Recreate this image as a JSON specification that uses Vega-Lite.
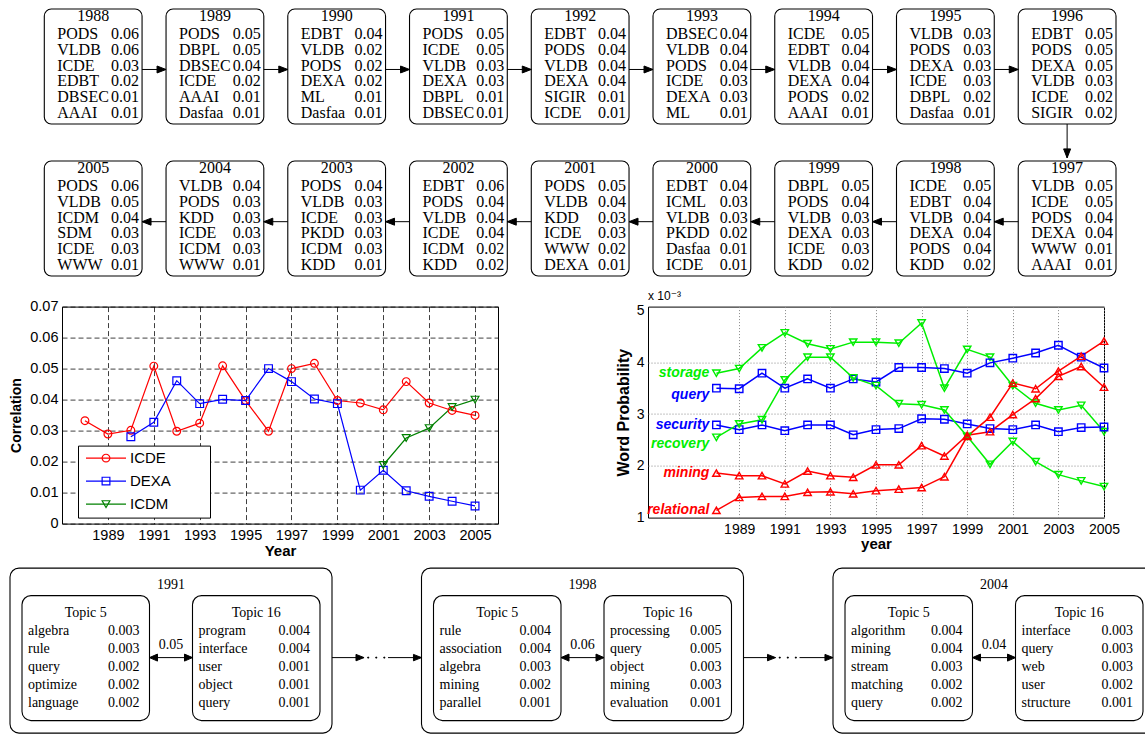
{
"$schema": "https://vega.github.io/schema/vega-lite/v6.json",
"padding": {"left": 9, "top": 8, "right": 0, "bottom": 0},
"background": "white",
"config": {"view": {"stroke": null}, "font": "Liberation Sans"},
"datasets": {
"venues": [
{"year":1988,"rank":1,"venue":"PODS","score":0.06},{"year":1988,"rank":2,"venue":"VLDB","score":0.06},{"year":1988,"rank":3,"venue":"ICDE","score":0.03},{"year":1988,"rank":4,"venue":"EDBT","score":0.02},{"year":1988,"rank":5,"venue":"DBSEC","score":0.01},{"year":1988,"rank":6,"venue":"AAAI","score":0.01},
{"year":1989,"rank":1,"venue":"PODS","score":0.05},{"year":1989,"rank":2,"venue":"DBPL","score":0.05},{"year":1989,"rank":3,"venue":"DBSEC","score":0.04},{"year":1989,"rank":4,"venue":"ICDE","score":0.02},{"year":1989,"rank":5,"venue":"AAAI","score":0.01},{"year":1989,"rank":6,"venue":"Dasfaa","score":0.01},
{"year":1990,"rank":1,"venue":"EDBT","score":0.04},{"year":1990,"rank":2,"venue":"VLDB","score":0.02},{"year":1990,"rank":3,"venue":"PODS","score":0.02},{"year":1990,"rank":4,"venue":"DEXA","score":0.02},{"year":1990,"rank":5,"venue":"ML","score":0.01},{"year":1990,"rank":6,"venue":"Dasfaa","score":0.01},
{"year":1991,"rank":1,"venue":"PODS","score":0.05},{"year":1991,"rank":2,"venue":"ICDE","score":0.05},{"year":1991,"rank":3,"venue":"VLDB","score":0.03},{"year":1991,"rank":4,"venue":"DEXA","score":0.03},{"year":1991,"rank":5,"venue":"DBPL","score":0.01},{"year":1991,"rank":6,"venue":"DBSEC","score":0.01},
{"year":1992,"rank":1,"venue":"EDBT","score":0.04},{"year":1992,"rank":2,"venue":"PODS","score":0.04},{"year":1992,"rank":3,"venue":"VLDB","score":0.04},{"year":1992,"rank":4,"venue":"DEXA","score":0.04},{"year":1992,"rank":5,"venue":"SIGIR","score":0.01},{"year":1992,"rank":6,"venue":"ICDE","score":0.01},
{"year":1993,"rank":1,"venue":"DBSEC","score":0.04},{"year":1993,"rank":2,"venue":"VLDB","score":0.04},{"year":1993,"rank":3,"venue":"PODS","score":0.04},{"year":1993,"rank":4,"venue":"ICDE","score":0.03},{"year":1993,"rank":5,"venue":"DEXA","score":0.03},{"year":1993,"rank":6,"venue":"ML","score":0.01},
{"year":1994,"rank":1,"venue":"ICDE","score":0.05},{"year":1994,"rank":2,"venue":"EDBT","score":0.04},{"year":1994,"rank":3,"venue":"VLDB","score":0.04},{"year":1994,"rank":4,"venue":"DEXA","score":0.04},{"year":1994,"rank":5,"venue":"PODS","score":0.02},{"year":1994,"rank":6,"venue":"AAAI","score":0.01},
{"year":1995,"rank":1,"venue":"VLDB","score":0.03},{"year":1995,"rank":2,"venue":"PODS","score":0.03},{"year":1995,"rank":3,"venue":"DEXA","score":0.03},{"year":1995,"rank":4,"venue":"ICDE","score":0.03},{"year":1995,"rank":5,"venue":"DBPL","score":0.02},{"year":1995,"rank":6,"venue":"Dasfaa","score":0.01},
{"year":1996,"rank":1,"venue":"EDBT","score":0.05},{"year":1996,"rank":2,"venue":"PODS","score":0.05},{"year":1996,"rank":3,"venue":"DEXA","score":0.05},{"year":1996,"rank":4,"venue":"VLDB","score":0.03},{"year":1996,"rank":5,"venue":"ICDE","score":0.02},{"year":1996,"rank":6,"venue":"SIGIR","score":0.02},
{"year":1997,"rank":1,"venue":"VLDB","score":0.05},{"year":1997,"rank":2,"venue":"ICDE","score":0.05},{"year":1997,"rank":3,"venue":"PODS","score":0.04},{"year":1997,"rank":4,"venue":"DEXA","score":0.04},{"year":1997,"rank":5,"venue":"WWW","score":0.01},{"year":1997,"rank":6,"venue":"AAAI","score":0.01},
{"year":1998,"rank":1,"venue":"ICDE","score":0.05},{"year":1998,"rank":2,"venue":"EDBT","score":0.04},{"year":1998,"rank":3,"venue":"VLDB","score":0.04},{"year":1998,"rank":4,"venue":"DEXA","score":0.04},{"year":1998,"rank":5,"venue":"PODS","score":0.04},{"year":1998,"rank":6,"venue":"KDD","score":0.02},
{"year":1999,"rank":1,"venue":"DBPL","score":0.05},{"year":1999,"rank":2,"venue":"PODS","score":0.04},{"year":1999,"rank":3,"venue":"VLDB","score":0.03},{"year":1999,"rank":4,"venue":"DEXA","score":0.03},{"year":1999,"rank":5,"venue":"ICDE","score":0.03},{"year":1999,"rank":6,"venue":"KDD","score":0.02},
{"year":2000,"rank":1,"venue":"EDBT","score":0.04},{"year":2000,"rank":2,"venue":"ICML","score":0.03},{"year":2000,"rank":3,"venue":"VLDB","score":0.03},{"year":2000,"rank":4,"venue":"PKDD","score":0.02},{"year":2000,"rank":5,"venue":"Dasfaa","score":0.01},{"year":2000,"rank":6,"venue":"ICDE","score":0.01},
{"year":2001,"rank":1,"venue":"PODS","score":0.05},{"year":2001,"rank":2,"venue":"VLDB","score":0.04},{"year":2001,"rank":3,"venue":"KDD","score":0.03},{"year":2001,"rank":4,"venue":"ICDE","score":0.03},{"year":2001,"rank":5,"venue":"WWW","score":0.02},{"year":2001,"rank":6,"venue":"DEXA","score":0.01},
{"year":2002,"rank":1,"venue":"EDBT","score":0.06},{"year":2002,"rank":2,"venue":"PODS","score":0.04},{"year":2002,"rank":3,"venue":"VLDB","score":0.04},{"year":2002,"rank":4,"venue":"ICDE","score":0.04},{"year":2002,"rank":5,"venue":"ICDM","score":0.02},{"year":2002,"rank":6,"venue":"KDD","score":0.02},
{"year":2003,"rank":1,"venue":"PODS","score":0.04},{"year":2003,"rank":2,"venue":"VLDB","score":0.03},{"year":2003,"rank":3,"venue":"ICDE","score":0.03},{"year":2003,"rank":4,"venue":"PKDD","score":0.03},{"year":2003,"rank":5,"venue":"ICDM","score":0.03},{"year":2003,"rank":6,"venue":"KDD","score":0.01},
{"year":2004,"rank":1,"venue":"VLDB","score":0.04},{"year":2004,"rank":2,"venue":"PODS","score":0.03},{"year":2004,"rank":3,"venue":"KDD","score":0.03},{"year":2004,"rank":4,"venue":"ICDE","score":0.03},{"year":2004,"rank":5,"venue":"ICDM","score":0.03},{"year":2004,"rank":6,"venue":"WWW","score":0.01},
{"year":2005,"rank":1,"venue":"PODS","score":0.06},{"year":2005,"rank":2,"venue":"VLDB","score":0.05},{"year":2005,"rank":3,"venue":"ICDM","score":0.04},{"year":2005,"rank":4,"venue":"SDM","score":0.03},{"year":2005,"rank":5,"venue":"ICDE","score":0.03},{"year":2005,"rank":6,"venue":"WWW","score":0.01}
],
"correlation": [
{"year":1988,"venue":"ICDE","correlation":0.0332},{"year":1989,"venue":"ICDE","correlation":0.0289},{"year":1990,"venue":"ICDE","correlation":0.0301},{"year":1991,"venue":"ICDE","correlation":0.0508},{"year":1992,"venue":"ICDE","correlation":0.0298},{"year":1993,"venue":"ICDE","correlation":0.0324},{"year":1994,"venue":"ICDE","correlation":0.0509},{"year":1995,"venue":"ICDE","correlation":0.0397},{"year":1996,"venue":"ICDE","correlation":0.0298},{"year":1997,"venue":"ICDE","correlation":0.0500},{"year":1998,"venue":"ICDE","correlation":0.0517},{"year":1999,"venue":"ICDE","correlation":0.0397},{"year":2000,"venue":"ICDE","correlation":0.0389},{"year":2001,"venue":"ICDE","correlation":0.0367},{"year":2002,"venue":"ICDE","correlation":0.0458},{"year":2003,"venue":"ICDE","correlation":0.0389},{"year":2004,"venue":"ICDE","correlation":0.0365},{"year":2005,"venue":"ICDE","correlation":0.0349},
{"year":1990,"venue":"DEXA","correlation":0.0280},{"year":1991,"venue":"DEXA","correlation":0.0327},{"year":1992,"venue":"DEXA","correlation":0.0461},{"year":1993,"venue":"DEXA","correlation":0.0387},{"year":1994,"venue":"DEXA","correlation":0.0401},{"year":1995,"venue":"DEXA","correlation":0.0397},{"year":1996,"venue":"DEXA","correlation":0.0500},{"year":1997,"venue":"DEXA","correlation":0.0458},{"year":1998,"venue":"DEXA","correlation":0.0402},{"year":1999,"venue":"DEXA","correlation":0.0387},{"year":2000,"venue":"DEXA","correlation":0.0108},{"year":2001,"venue":"DEXA","correlation":0.0172},{"year":2002,"venue":"DEXA","correlation":0.0106},{"year":2003,"venue":"DEXA","correlation":0.0088},{"year":2004,"venue":"DEXA","correlation":0.0072},{"year":2005,"venue":"DEXA","correlation":0.0057},
{"year":2001,"venue":"ICDM","correlation":0.0189},{"year":2002,"venue":"ICDM","correlation":0.0276},{"year":2003,"venue":"ICDM","correlation":0.0308},{"year":2004,"venue":"ICDM","correlation":0.0376},{"year":2005,"venue":"ICDM","correlation":0.0400}
],
"words": [
{"year":1988,"word":"storage","prob":0.00379},{"year":1989,"word":"storage","prob":0.00388},{"year":1990,"word":"storage","prob":0.00428},{"year":1991,"word":"storage","prob":0.00457},{"year":1992,"word":"storage","prob":0.00436},{"year":1993,"word":"storage","prob":0.00426},{"year":1994,"word":"storage","prob":0.00439},{"year":1995,"word":"storage","prob":0.00439},{"year":1996,"word":"storage","prob":0.00437},{"year":1997,"word":"storage","prob":0.00476},{"year":1998,"word":"storage","prob":0.00350},{"year":1999,"word":"storage","prob":0.00425},{"year":2000,"word":"storage","prob":0.00410},{"year":2001,"word":"storage","prob":0.00355},{"year":2002,"word":"storage","prob":0.00321},{"year":2003,"word":"storage","prob":0.00308},{"year":2004,"word":"storage","prob":0.00317},{"year":2005,"word":"storage","prob":0.00266},
{"year":1988,"word":"query","prob":0.00350},{"year":1989,"word":"query","prob":0.00349},{"year":1990,"word":"query","prob":0.00379},{"year":1991,"word":"query","prob":0.00350},{"year":1992,"word":"query","prob":0.00368},{"year":1993,"word":"query","prob":0.00350},{"year":1994,"word":"query","prob":0.00368},{"year":1995,"word":"query","prob":0.00362},{"year":1996,"word":"query","prob":0.00390},{"year":1997,"word":"query","prob":0.00390},{"year":1998,"word":"query","prob":0.00388},{"year":1999,"word":"query","prob":0.00379},{"year":2000,"word":"query","prob":0.00399},{"year":2001,"word":"query","prob":0.00408},{"year":2002,"word":"query","prob":0.00418},{"year":2003,"word":"query","prob":0.00433},{"year":2004,"word":"query","prob":0.00410},{"year":2005,"word":"query","prob":0.00389},
{"year":1988,"word":"security","prob":0.00279},{"year":1989,"word":"security","prob":0.00270},{"year":1990,"word":"security","prob":0.00279},{"year":1991,"word":"security","prob":0.00268},{"year":1992,"word":"security","prob":0.00279},{"year":1993,"word":"security","prob":0.00279},{"year":1994,"word":"security","prob":0.00260},{"year":1995,"word":"security","prob":0.00270},{"year":1996,"word":"security","prob":0.00272},{"year":1997,"word":"security","prob":0.00291},{"year":1998,"word":"security","prob":0.00290},{"year":1999,"word":"security","prob":0.00281},{"year":2000,"word":"security","prob":0.00272},{"year":2001,"word":"security","prob":0.00270},{"year":2002,"word":"security","prob":0.00279},{"year":2003,"word":"security","prob":0.00266},{"year":2004,"word":"security","prob":0.00274},{"year":2005,"word":"security","prob":0.00275},
{"year":1988,"word":"recovery","prob":0.00255},{"year":1989,"word":"recovery","prob":0.00281},{"year":1990,"word":"recovery","prob":0.00289},{"year":1991,"word":"recovery","prob":0.00366},{"year":1992,"word":"recovery","prob":0.00410},{"year":1993,"word":"recovery","prob":0.00410},{"year":1994,"word":"recovery","prob":0.00370},{"year":1995,"word":"recovery","prob":0.00355},{"year":1996,"word":"recovery","prob":0.00320},{"year":1997,"word":"recovery","prob":0.00318},{"year":1998,"word":"recovery","prob":0.00308},{"year":1999,"word":"recovery","prob":0.00257},{"year":2000,"word":"recovery","prob":0.00203},{"year":2001,"word":"recovery","prob":0.00247},{"year":2002,"word":"recovery","prob":0.00208},{"year":2003,"word":"recovery","prob":0.00183},{"year":2004,"word":"recovery","prob":0.00171},{"year":2005,"word":"recovery","prob":0.00160},
{"year":1988,"word":"mining","prob":0.00186},{"year":1989,"word":"mining","prob":0.00181},{"year":1990,"word":"mining","prob":0.00181},{"year":1991,"word":"mining","prob":0.00165},{"year":1992,"word":"mining","prob":0.00190},{"year":1993,"word":"mining","prob":0.00181},{"year":1994,"word":"mining","prob":0.00178},{"year":1995,"word":"mining","prob":0.00202},{"year":1996,"word":"mining","prob":0.00202},{"year":1997,"word":"mining","prob":0.00239},{"year":1998,"word":"mining","prob":0.00219},{"year":1999,"word":"mining","prob":0.00259},{"year":2000,"word":"mining","prob":0.00266},{"year":2001,"word":"mining","prob":0.00299},{"year":2002,"word":"mining","prob":0.00330},{"year":2003,"word":"mining","prob":0.00373},{"year":2004,"word":"mining","prob":0.00392},{"year":2005,"word":"mining","prob":0.00352},
{"year":1988,"word":"relational","prob":0.00114},{"year":1989,"word":"relational","prob":0.00139},{"year":1990,"word":"relational","prob":0.00141},{"year":1991,"word":"relational","prob":0.00141},{"year":1992,"word":"relational","prob":0.00149},{"year":1993,"word":"relational","prob":0.00150},{"year":1994,"word":"relational","prob":0.00146},{"year":1995,"word":"relational","prob":0.00152},{"year":1996,"word":"relational","prob":0.00155},{"year":1997,"word":"relational","prob":0.00158},{"year":1998,"word":"relational","prob":0.00179},{"year":1999,"word":"relational","prob":0.00257},{"year":2000,"word":"relational","prob":0.00294},{"year":2001,"word":"relational","prob":0.00360},{"year":2002,"word":"relational","prob":0.00349},{"year":2003,"word":"relational","prob":0.00383},{"year":2004,"word":"relational","prob":0.00412},{"year":2005,"word":"relational","prob":0.00441}
],
"topics": [
{"year":1991,"topic":"Topic 5","rank":1,"word":"algebra","prob":0.003},{"year":1991,"topic":"Topic 5","rank":2,"word":"rule","prob":0.003},{"year":1991,"topic":"Topic 5","rank":3,"word":"query","prob":0.002},{"year":1991,"topic":"Topic 5","rank":4,"word":"optimize","prob":0.002},{"year":1991,"topic":"Topic 5","rank":5,"word":"language","prob":0.002},
{"year":1991,"topic":"Topic 16","rank":1,"word":"program","prob":0.004},{"year":1991,"topic":"Topic 16","rank":2,"word":"interface","prob":0.004},{"year":1991,"topic":"Topic 16","rank":3,"word":"user","prob":0.001},{"year":1991,"topic":"Topic 16","rank":4,"word":"object","prob":0.001},{"year":1991,"topic":"Topic 16","rank":5,"word":"query","prob":0.001},
{"year":1998,"topic":"Topic 5","rank":1,"word":"rule","prob":0.004},{"year":1998,"topic":"Topic 5","rank":2,"word":"association","prob":0.004},{"year":1998,"topic":"Topic 5","rank":3,"word":"algebra","prob":0.003},{"year":1998,"topic":"Topic 5","rank":4,"word":"mining","prob":0.002},{"year":1998,"topic":"Topic 5","rank":5,"word":"parallel","prob":0.001},
{"year":1998,"topic":"Topic 16","rank":1,"word":"processing","prob":0.005},{"year":1998,"topic":"Topic 16","rank":2,"word":"query","prob":0.005},{"year":1998,"topic":"Topic 16","rank":3,"word":"object","prob":0.003},{"year":1998,"topic":"Topic 16","rank":4,"word":"mining","prob":0.003},{"year":1998,"topic":"Topic 16","rank":5,"word":"evaluation","prob":0.001},
{"year":2004,"topic":"Topic 5","rank":1,"word":"algorithm","prob":0.004},{"year":2004,"topic":"Topic 5","rank":2,"word":"mining","prob":0.004},{"year":2004,"topic":"Topic 5","rank":3,"word":"stream","prob":0.003},{"year":2004,"topic":"Topic 5","rank":4,"word":"matching","prob":0.002},{"year":2004,"topic":"Topic 5","rank":5,"word":"query","prob":0.002},
{"year":2004,"topic":"Topic 16","rank":1,"word":"interface","prob":0.003},{"year":2004,"topic":"Topic 16","rank":2,"word":"query","prob":0.003},{"year":2004,"topic":"Topic 16","rank":3,"word":"web","prob":0.003},{"year":2004,"topic":"Topic 16","rank":4,"word":"user","prob":0.002},{"year":2004,"topic":"Topic 16","rank":5,"word":"structure","prob":0.001}
],
"links": [{"year":1991,"correlation":0.05},{"year":1998,"correlation":0.06},{"year":2004,"correlation":0.04}],
"flows": [{"from":1991,"to":1998},{"from":1998,"to":2004}]
},
"resolve": {"scale": {"x": "independent", "y": "independent", "color": "independent", "shape": "independent"}},
"spacing": 11.6,
"vconcat": [
{
"spacing": 0,
"resolve": {"scale": {"x": "independent", "y": "independent"}},
"vconcat": [
{
"width": 1083, "height": 115,
"data": {"name": "venues"},
"transform": [{"filter": "datum.year <= 1996"}],
"encoding": {"x": {"field": "year", "type": "ordinal", "sort": "ascending", "scale": {"range": [-17.7, 1054], "paddingInner": 0.197, "paddingOuter": 0}, "axis": null}},
"layer": [
{"transform": [{"filter": "datum.rank == 1"}], "mark": {"type": "rect", "fill": "white", "stroke": "black", "strokeWidth": 1.1, "cornerRadius": 7}},
{"transform": [{"filter": "datum.rank == 1 && datum.year < 1996"}], "mark": {"type": "point", "shape": "M1,0.061H1.491M1.491,0.061L1.307,-0.01L1.307,0.132Z", "size": 9555, "filled": true, "color": "black", "stroke": "black", "strokeWidth": 1, "opacity": 1}},
{"transform": [{"filter": "datum.rank == 1 && datum.year == 1996"}], "mark": {"type": "point", "shape": "M0,1.177V1.87M0,1.87L-0.0716,1.686L0.0716,1.686Z", "size": 9555, "filled": true, "color": "black", "stroke": "black", "strokeWidth": 1, "opacity": 1}},
{"transform": [{"filter": "datum.rank == 1"}], "mark": {"type": "text", "font": "Liberation Serif", "fontSize": 16, "dy": -18, "baseline": "middle", "align": "center", "color": "black"}, "encoding": {"text": {"field": "year", "type": "nominal"}, "y": {"field": "rank", "type": "quantitative", "scale": {"domain": [1, 6], "range": [25, 104], "nice": false, "zero": false}, "axis": null}}},
{"mark": {"type": "text", "font": "Liberation Serif", "fontSize": 16, "align": "left", "dx": -35.9, "baseline": "middle", "color": "black"}, "encoding": {"text": {"field": "venue", "type": "nominal"}, "y": {"field": "rank", "type": "quantitative", "scale": {"domain": [1, 6], "range": [25, 104], "nice": false, "zero": false}, "axis": null}}},
{"mark": {"type": "text", "font": "Liberation Serif", "fontSize": 16, "align": "right", "dx": 45.9, "baseline": "middle", "color": "black"}, "encoding": {"text": {"field": "score", "type": "quantitative", "format": ".2f"}, "y": {"field": "rank", "type": "quantitative", "scale": {"domain": [1, 6], "range": [25, 104], "nice": false, "zero": false}, "axis": null}}}
]
},
{
"width": 1083, "height": 115,
"data": {"name": "venues"},
"transform": [{"filter": "datum.year >= 1997"}],
"encoding": {"x": {"field": "year", "type": "ordinal", "sort": "descending", "scale": {"range": [-17.7, 1054], "paddingInner": 0.197, "paddingOuter": 0}, "axis": null}},
"layer": [
{"transform": [{"filter": "datum.rank == 1"}], "mark": {"type": "rect", "fill": "white", "stroke": "black", "strokeWidth": 1.1, "cornerRadius": 7}},
{"transform": [{"filter": "datum.rank == 1 && datum.year < 2005"}], "mark": {"type": "point", "shape": "M-1,0.065H-1.491M-1.491,0.065L-1.307,-0.007L-1.307,0.137Z", "size": 9555, "filled": true, "color": "black", "stroke": "black", "strokeWidth": 1, "opacity": 1}},
{"transform": [{"filter": "datum.rank == 1"}], "mark": {"type": "text", "font": "Liberation Serif", "fontSize": 16, "dy": -18, "baseline": "middle", "align": "center", "color": "black"}, "encoding": {"text": {"field": "year", "type": "nominal"}, "y": {"field": "rank", "type": "quantitative", "scale": {"domain": [1, 6], "range": [25, 104], "nice": false, "zero": false}, "axis": null}}},
{"mark": {"type": "text", "font": "Liberation Serif", "fontSize": 16, "align": "left", "dx": -35.9, "baseline": "middle", "color": "black"}, "encoding": {"text": {"field": "venue", "type": "nominal"}, "y": {"field": "rank", "type": "quantitative", "scale": {"domain": [1, 6], "range": [25, 104], "nice": false, "zero": false}, "axis": null}}},
{"mark": {"type": "text", "font": "Liberation Serif", "fontSize": 16, "align": "right", "dx": 45.9, "baseline": "middle", "color": "black"}, "encoding": {"text": {"field": "score", "type": "quantitative", "format": ".2f"}, "y": {"field": "rank", "type": "quantitative", "scale": {"domain": [1, 6], "range": [25, 104], "nice": false, "zero": false}, "axis": null}}}
]
}
]
},
{
"spacing": 8,
"resolve": {"scale": {"x": "independent", "y": "independent", "color": "independent", "shape": "independent"}},
"vconcat": [
{
"hconcat": [
{
"width": 436, "height": 217,
"view": {"stroke": "black", "strokeWidth": 1},
"data": {"name": "correlation"},
"encoding": {
"x": {"field": "year", "type": "quantitative", "scale": {"domain": [1987, 2006], "nice": false, "zero": false},
 "axis": {"values": [1989,1991,1993,1995,1997,1999,2001,2003,2005], "format": "d", "title": "Year", "titleFontSize": 15, "titleFontWeight": "bold", "titleColor": "black", "titlePadding": 1, "labelFontSize": 14.5, "labelColor": "black", "labelPadding": 5, "labelFlush": false, "ticks": false, "tickSize": 0, "domain": false, "grid": true, "gridDash": [5, 3], "gridColor": "#000000", "gridOpacity": 0.75, "gridWidth": 1}},
"y": {"field": "correlation", "type": "quantitative", "scale": {"domain": [0, 0.07], "nice": false},
 "axis": {"values": [0,0.01,0.02,0.03,0.04,0.05,0.06,0.07], "labelExpr": "datum.value == 0 ? '0' : format(datum.value, '.2f')", "title": "Correlation", "titleFontSize": 14, "titleFontWeight": "bold", "titleColor": "black", "titlePadding": 6, "labelFontSize": 14.5, "labelColor": "black", "labelPadding": 4, "ticks": false, "tickSize": 0, "domain": false, "grid": true, "gridDash": [5, 3], "gridColor": "#000000", "gridOpacity": 0.75, "gridWidth": 1}}
},
"resolve": {"legend": {"color": "independent", "shape": "independent"}},
"layer": [
{"mark": {"type": "line", "strokeWidth": 1.2},
 "encoding": {"color": {"field": "venue", "type": "nominal", "scale": {"domain": ["ICDE", "DEXA", "ICDM"], "range": ["#ff0000", "#0000ff", "#008000"]},
  "legend": {"orient": "none", "legendX": 16, "legendY": 139, "direction": "vertical", "title": null, "strokeColor": "black", "fillColor": "white", "padding": 5, "symbolType": "M-5,0H5", "symbolSize": 64, "symbolStrokeWidth": 1.2, "symbolOffset": 15.5, "labelOffset": 16.5, "rowPadding": 7, "labelFont": "Liberation Sans", "labelFontSize": 15, "labelColor": "black", "labelLimit": 300,
   "labelExpr": "datum.label + '\u00a0\u00a0\u00a0\u00a0\u00a0\u00a0\u00a0\u00a0\u200b'"}}}},
{"mark": {"type": "point", "filled": false, "size": 60, "strokeWidth": 1.2, "opacity": 1},
 "encoding": {"color": {"field": "venue", "type": "nominal", "scale": {"domain": ["ICDE", "DEXA", "ICDM"], "range": ["#ff0000", "#0000ff", "#008000"]},
  "legend": {"orient": "none", "legendX": 16, "legendY": 139, "direction": "vertical", "title": null, "strokeColor": "transparent", "fillColor": "transparent", "padding": 5, "symbolSize": 60, "symbolStrokeWidth": 1.2, "symbolOffset": 15.5, "labelOffset": 16.5, "rowPadding": 7, "labelFont": "Liberation Sans", "labelFontSize": 15, "labelColor": "black", "labelOpacity": 0, "labelLimit": 300,
   "labelExpr": "datum.label + '\u00a0\u00a0\u00a0\u00a0\u00a0\u00a0\u00a0\u00a0\u200b'"}},
  "shape": {"field": "venue", "type": "nominal", "scale": {"domain": ["ICDE", "DEXA", "ICDM"], "range": ["circle", "square", "triangle-down"]},
  "legend": {"orient": "none", "legendX": 16, "legendY": 139, "direction": "vertical", "title": null, "strokeColor": "transparent", "fillColor": "transparent", "padding": 5, "symbolSize": 60, "symbolStrokeWidth": 1.2, "symbolOffset": 15.5, "labelOffset": 16.5, "rowPadding": 7, "labelFont": "Liberation Sans", "labelFontSize": 15, "labelColor": "black", "labelOpacity": 0, "labelLimit": 300,
   "labelExpr": "datum.label + '\u00a0\u00a0\u00a0\u00a0\u00a0\u00a0\u00a0\u00a0\u200b'"}}}}
]
},
{
"width": 456, "height": 211,
"view": {"stroke": "black", "strokeWidth": 1},
"title": {"text": "x 10⁻³", "anchor": "start", "frame": "group", "offset": 1, "fontSize": 12, "font": "Liberation Sans, DejaVu Sans", "fontWeight": "normal", "color": "black"},
"data": {"name": "words"},
"encoding": {
"x": {"field": "year", "type": "quantitative", "scale": {"domain": [1985, 2005], "nice": false, "zero": false},
 "axis": {"values": [1989,1991,1993,1995,1997,1999,2001,2003,2005], "format": "d", "title": "year", "titleFontSize": 15, "titleFontWeight": "bold", "titleColor": "black", "titlePadding": 0, "labelFontSize": 14, "labelColor": "black", "labelPadding": 5, "labelFlush": false, "ticks": false, "tickSize": 0, "domain": false, "grid": true, "gridDash": [1, 2], "gridColor": "#888888", "gridWidth": 1}},
"y": {"field": "prob", "type": "quantitative", "scale": {"domain": [0.001, 0.005077], "nice": false, "zero": false},
 "axis": {"values": [0.001,0.002,0.003,0.004,0.005], "labelExpr": "format(datum.value * 1000, '.0f')", "title": "Word Probability", "titleFontSize": 16, "titleFontWeight": "bold", "titleColor": "black", "titlePadding": 5, "labelFontSize": 14, "labelColor": "black", "labelPadding": 4, "ticks": false, "tickSize": 0, "domain": false, "grid": true, "gridDash": [1, 2], "gridColor": {"condition": {"test": "datum.value < 0.0015 || datum.value > 0.0045", "value": "transparent"}, "value": "#888888"}, "gridWidth": 1}},
"color": {"field": "word", "type": "nominal", "scale": {"domain": ["storage", "query", "security", "recovery", "mining", "relational"], "range": ["#00ee00", "#0000ff", "#0000ff", "#00ee00", "#ff0000", "#ff0000"]}, "legend": null}
},
"layer": [
{"mark": {"type": "line", "strokeWidth": 1.5}},
{"mark": {"type": "point", "filled": false, "size": 55, "strokeWidth": 1.4, "opacity": 1}, "encoding": {"shape": {"field": "word", "type": "nominal", "scale": {"domain": ["storage", "query", "security", "recovery", "mining", "relational"], "range": ["triangle-down", "square", "square", "triangle-down", "triangle-up", "triangle-up"]}, "legend": null}}},
{"transform": [{"filter": "datum.year == 1988 && datum.word != 'query' && datum.word != 'recovery'"}], "mark": {"type": "text", "align": "right", "baseline": "middle", "dx": -7, "fontStyle": "italic", "fontWeight": "bold", "fontSize": 14, "font": "Liberation Sans"}, "encoding": {"text": {"field": "word", "type": "nominal"}}},
{"transform": [{"filter": "datum.year == 1988 && (datum.word == 'query' || datum.word == 'recovery')"}], "mark": {"type": "text", "align": "right", "baseline": "middle", "dx": -7, "dy": 7, "fontStyle": "italic", "fontWeight": "bold", "fontSize": 14, "font": "Liberation Sans"}, "encoding": {"text": {"field": "word", "type": "nominal"}}}
]
}
],
"spacing": 150,
"bounds": "flush",
"resolve": {"scale": {"x": "independent", "y": "independent", "color": "independent", "shape": "independent"}}
},
{
"width": 1083, "height": 166,
"encoding": {
"x": {"field": "year", "type": "ordinal", "scale": {"domain": [1991, 1998, 2004], "range": [-52, 1093], "paddingInner": 0.2175, "paddingOuter": 0}, "axis": null}
},
"layer": [
{"data": {"name": "topics"}, "mark": {"type": "rect", "fill": "white", "stroke": "black", "strokeWidth": 1.1, "cornerRadius": 9, "yOffset": -62.5, "y2Offset": 30.5},
 "encoding": {"y": {"aggregate": "min", "field": "rank", "type": "quantitative", "scale": {"domain": [1, 5], "range": [63, 135], "nice": false, "zero": false}, "axis": null}, "y2": {"aggregate": "max", "field": "rank"}}},
{"data": {"name": "topics"}, "mark": {"type": "rect", "fill": "white", "stroke": "black", "strokeWidth": 1.1, "cornerRadius": 9, "yOffset": -35, "y2Offset": 18},
 "encoding": {"xOffset": {"field": "topic", "type": "nominal", "scale": {"domain": ["Topic 5", "Topic 16"], "paddingInner": 0.2522, "paddingOuter": 0.0704}}, "y": {"aggregate": "min", "field": "rank", "type": "quantitative"}, "y2": {"aggregate": "max", "field": "rank"}}},
{"data": {"name": "topics"}, "transform": [{"filter": "datum.rank == 1 && datum.topic == 'Topic 5'"}], "mark": {"type": "text", "font": "Liberation Serif", "fontSize": 14, "dy": -46, "baseline": "middle", "align": "center", "color": "black"},
 "encoding": {"text": {"field": "year", "type": "nominal"}, "y": {"field": "rank", "type": "quantitative"}}},
{"data": {"name": "topics"}, "transform": [{"filter": "datum.rank == 1"}], "mark": {"type": "text", "font": "Liberation Serif", "fontSize": 14, "dy": -18, "baseline": "middle", "align": "center", "color": "black"},
 "encoding": {"text": {"field": "topic", "type": "nominal"}, "xOffset": {"field": "topic", "type": "nominal"}, "y": {"field": "rank", "type": "quantitative"}}},
{"data": {"name": "topics"}, "mark": {"type": "text", "font": "Liberation Serif", "fontSize": 14, "dx": -57.75, "baseline": "middle", "align": "left", "color": "black"},
 "encoding": {"text": {"field": "word", "type": "nominal"}, "xOffset": {"field": "topic", "type": "nominal"}, "y": {"field": "rank", "type": "quantitative"}}},
{"data": {"name": "topics"}, "mark": {"type": "text", "font": "Liberation Serif", "fontSize": 14, "dx": 53.75, "baseline": "middle", "align": "right", "color": "black"},
 "encoding": {"text": {"field": "prob", "type": "quantitative", "format": ".3f"}, "xOffset": {"field": "topic", "type": "nominal"}, "y": {"field": "rank", "type": "quantitative"}}},
{"data": {"name": "links"}, "mark": {"type": "point", "shape": "M-0.86,0H0.86M-0.86,0L-0.54,-0.14L-0.54,0.14ZM0.86,0L0.54,-0.14L0.54,0.14Z", "size": 2500, "filled": true, "color": "black", "stroke": "black", "strokeWidth": 1, "opacity": 1},
 "encoding": {"y": {"datum": 2.5, "type": "quantitative"}}},
{"data": {"name": "links"}, "mark": {"type": "text", "font": "Liberation Serif", "fontSize": 14, "dy": -13, "baseline": "middle", "align": "center", "color": "black"},
 "encoding": {"text": {"field": "correlation", "type": "quantitative", "format": ".2f"}, "y": {"datum": 2.5, "type": "quantitative"}}},
{"data": {"name": "flows"}, "mark": {"type": "point", "shape": "M1,0H1.199M1.199,0L1.149,-0.02L1.149,0.02ZM1.222,-0.003h0.006v0.006h-0.006ZM1.272,-0.003h0.006v0.006h-0.006ZM1.322,-0.003h0.006v0.006h-0.006ZM1.348,0H1.556M1.556,0L1.506,-0.02L1.506,0.02Z", "size": 103684, "filled": true, "color": "black", "stroke": "black", "strokeWidth": 1, "opacity": 1},
 "encoding": {"x": {"field": "from", "type": "ordinal"}, "y": {"datum": 2.5, "type": "quantitative"}}}
]
}
]
}
]
}
